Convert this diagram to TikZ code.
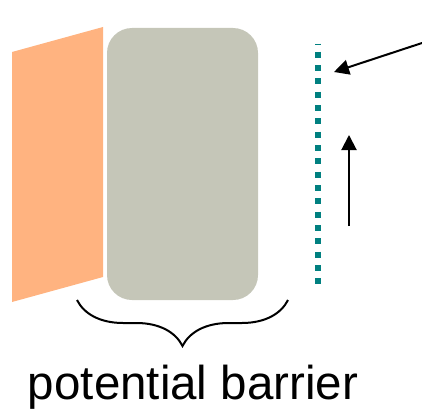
\documentclass[tikz,border=0pt]{standalone}
\usepackage{fontspec}
\usepackage{tikz}
\usetikzlibrary{arrows.meta,decorations.pathreplacing}
\newfontfamily\labelfont{Liberation Sans}
\definecolor{Apricot}{HTML}{FFB380}
\definecolor{Sage}{HTML}{C5C6B8}
\definecolor{Teal}{HTML}{008080}

\begin{document}
\begin{tikzpicture}[
  x=1pt, y=-1pt,
  barrier/.style={rectangle, rounded corners=25pt, draw=none, fill=Sage,
                  minimum width=151pt, minimum height=272pt, inner sep=0pt},
  wall/.style={fill=Apricot, draw=none},
  film/.style={draw=Teal, line width=6pt, dash pattern=on 6pt off 7.33pt, dash phase=5.3pt},
  arr/.style={-{Triangle[length=15pt,width=15pt]}, line width=2pt},
  brc/.style={decorate, decoration={brace, amplitude=46pt}, line width=2pt},
]
\useasboundingbox (0,0) rectangle (422,409);

%% ─ Wall and barrier ─────────────────────────────────────────────────────────
\fill[wall] (12,52) -- (103,27) -- (103,277) -- (12,302) -- cycle;
\node[barrier] (bar) at (182.5,164) {};

%% ─ Dotted layer ─────────────────────────────────────────────────────────────
\coordinate (ftop) at (318,43.7);
\coordinate (fbot) at (318,285);
\draw[film] (ftop) -- (fbot);

%% ─ Arrows ───────────────────────────────────────────────────────────────────
\coordinate (inA) at (422,43);
\coordinate (inB) at (334,72);
\coordinate (upA) at (349,226);
\coordinate (upB) at (349,135);
\draw[arr] (inA) -- (inB);
\draw[arr] (upA) -- (upB);

%% ─ Brace and label ──────────────────────────────────────────────────────────
\coordinate (bl) at (77,300);
\coordinate (br) at (288,300);
\draw[brc] (br) -- (bl);
\node[font=\labelfont\fontsize{47.5}{50}\selectfont, anchor=base, inner sep=0pt]
     (lbl) at (193,399) {potential barrier};

\end{tikzpicture}
\end{document}
